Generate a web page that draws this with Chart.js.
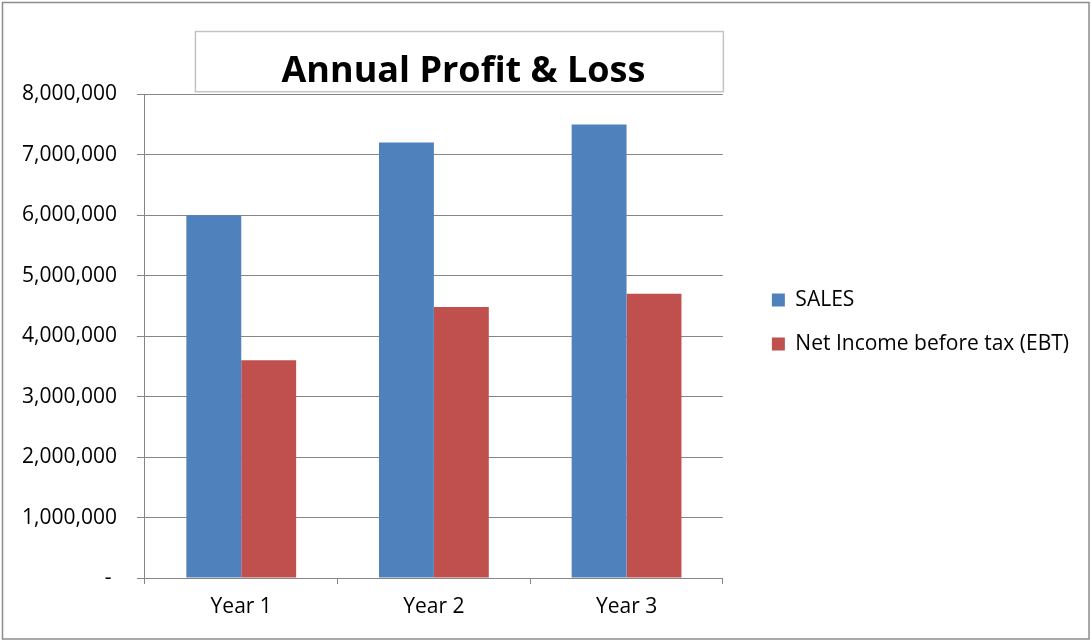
<!doctype html>
<html>
<head>
    <meta charset="utf-8">
    <title>Annual Profit &amp; Loss</title>
    <script src="https://cdn.jsdelivr.net/npm/chart.js"></script>
    <style>
        body { margin: 0; background: #fff; }
        #wrap { position: relative; width: 1091px; height: 641px; }
    </style>
</head>
<body>
<div id="wrap">
    <canvas id="myChart"></canvas>
</div>

<script>
    var years = ['Year 1', 'Year 2', 'Year 3'];
    var sales = [6000000, 7200000, 7500000];
    var ebt = [3600000, 4480000, 4700000];
    var yTicks = [0, 1000000, 2000000, 3000000, 4000000, 5000000, 6000000, 7000000, 8000000];

    var lineColor = '#868686';

    // outer frame + the boxed title, like the excel chart
    var decor = {
        id: 'decor',
        afterLayout: function (chart) {
            var a = chart.chartArea;
            chart.titleBlock.left = a.left + 59;
            chart.titleBlock.right = a.right;
            chart.legend.left += 26;
            chart.legend.right += 26;
        },
        beforeDraw: function (chart) {
            var ctx = chart.ctx;
            var a = chart.chartArea;
            ctx.save();
            ctx.fillStyle = '#fff';
            ctx.fillRect(0, 0, chart.width, chart.height);
            ctx.strokeStyle = '#8c8c8c';
            ctx.lineWidth = 1.5;
            ctx.strokeRect(2.5, 2.5, chart.width - 4.5, chart.height - 4.5);
            ctx.strokeStyle = '#c3c3c3';
            ctx.lineWidth = 1.5;
            ctx.strokeRect(a.left + 50.5, 31.5, a.right - a.left - 50, a.top - 34);
            ctx.restore();
        }
    };

    function drawChart() {
        new Chart(document.getElementById('myChart'), {
            type: 'bar',
            data: {
                labels: years,
                datasets: [{
                    label: 'SALES',
                    backgroundColor: '#4f81bd',
                    data: sales
                }, {
                    label: 'Net Income before tax (EBT)',
                    backgroundColor: '#c0504d',
                    data: ebt
                }]
            },
            options: {
                responsive: true,
                maintainAspectRatio: false,
                animation: false,
                categoryPercentage: 0.57,
                barPercentage: 1.0,
                layout: {
                    padding: {top: 24, bottom: 21, left: 2, right: 38}
                },
                scales: {
                    x: {
                        grid: {
                            offset: true,
                            drawOnChartArea: false,
                            color: lineColor,
                            tickLength: 6
                        },
                        border: {color: lineColor},
                        ticks: {
                            color: '#000',
                            padding: 10,
                            font: {family: 'Open Sans', size: 21}
                        },
                        afterFit: function (s) {
                            s.height = 42;
                        }
                    },
                    y: {
                        min: 0,
                        max: 8000000,
                        afterBuildTicks: function (s) {
                            s.ticks = yTicks.map(function (v) { return {value: v}; });
                        },
                        grid: {
                            color: lineColor,
                            tickLength: 8
                        },
                        border: {color: lineColor},
                        ticks: {
                            color: '#000',
                            padding: 20,
                            font: {family: 'Open Sans', size: 21},
                            callback: function (v) {
                                return v === 0 ? '- ' : v.toLocaleString('en-US');
                            }
                        }
                    }
                },
                plugins: {
                    title: {
                        display: true,
                        text: 'Annual Profit & Loss',
                        color: '#000',
                        font: {family: 'Open Sans', size: 36, weight: 'bold'},
                        padding: {top: 26, bottom: 1}
                    },
                    legend: {
                        position: 'right',
                        maxWidth: 340,
                        labels: {
                            color: '#000',
                            boxWidth: 13,
                            boxHeight: 13,
                            padding: 23,
                            font: {family: 'Open Sans', size: 21}
                        }
                    },
                    tooltip: {enabled: false}
                }
            },
            plugins: [decor]
        });
    }

    // make sure the fonts are ready before chart.js measures text
    Promise.all([
        document.fonts.load('21px "Open Sans"'),
        document.fonts.load('bold 36px "Open Sans"')
    ]).then(drawChart, drawChart);
</script>
</body>
</html>
